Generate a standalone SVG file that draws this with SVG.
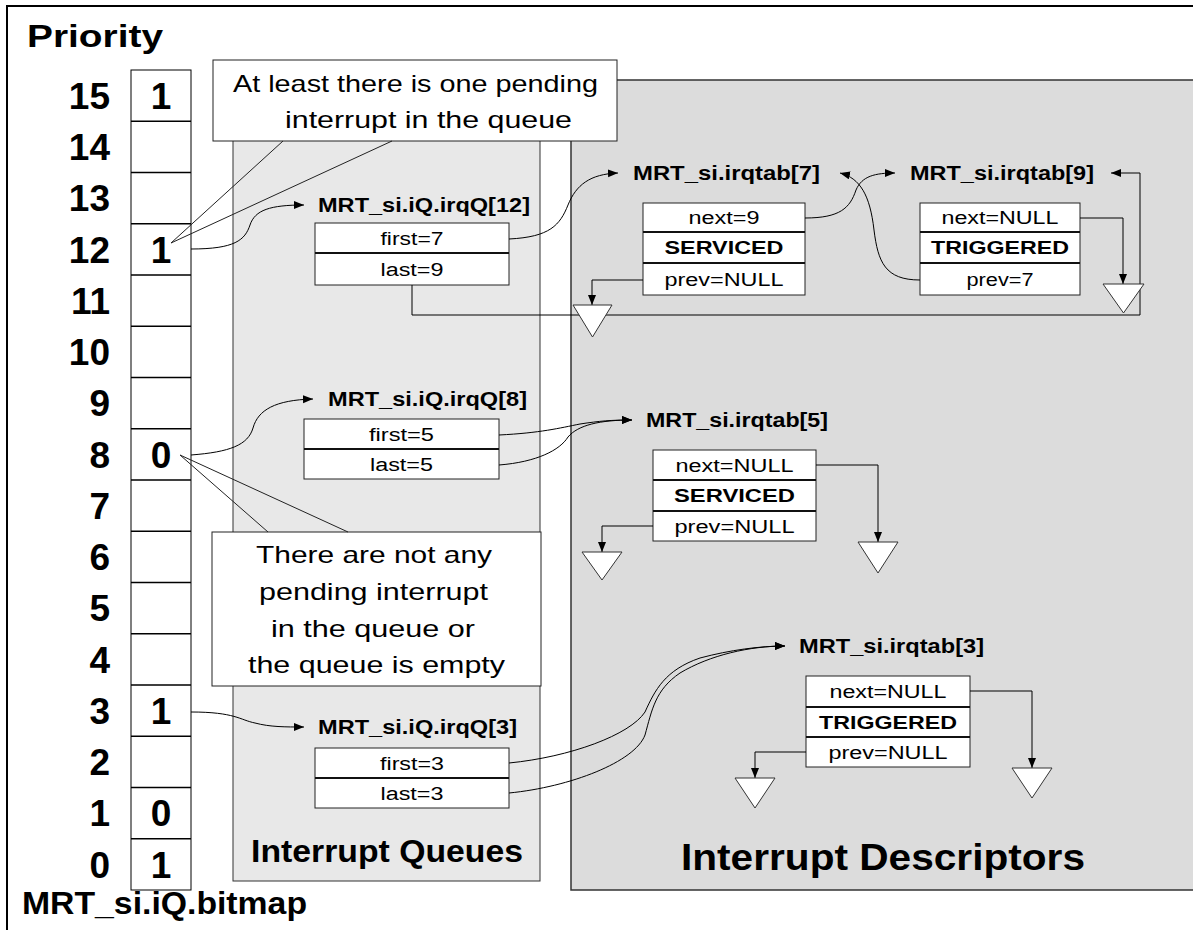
<svg xmlns="http://www.w3.org/2000/svg" width="1193" height="930" viewBox="0 0 1193 930">
<style>
text{font-family:"Liberation Sans",Arial,Helvetica,sans-serif;fill:#000}
.b{font-weight:bold}
.big{font-size:31px;font-weight:bold}
.num{font-size:37px;font-weight:bold}
.lbl{font-size:20px;font-weight:bold}
.cell{font-size:18px}
.cellb{font-size:18px;font-weight:bold}
.call{font-size:24px}
.box{fill:#fff;stroke:#222;stroke-width:1}
.div{stroke:#111;stroke-width:2}
.con{fill:none;stroke:#000;stroke-width:1}
.gnd{fill:#fff;stroke:#333;stroke-width:1}
</style>
<defs>
<marker id="ah" markerWidth="11" markerHeight="9" refX="10" refY="4" orient="auto" markerUnits="userSpaceOnUse">
<path d="M0,0 L10,4 L0,8 z" fill="#000"/>
</marker>
</defs>
<rect x="0" y="0" width="1193" height="930" fill="#fff"/>
<path d="M7,930 V6 H1193" fill="none" stroke="#000" stroke-width="2"/>

<g id="panel-queues">
<rect x="233" y="80" width="307" height="801" fill="#e8e8e8" stroke="#333" stroke-width="1"/>
<text x="387" y="862" class="big" font-size="30" text-anchor="middle" textLength="272" lengthAdjust="spacingAndGlyphs">Interrupt Queues</text>
</g>
<g id="panel-descriptors">
<rect x="571" y="80" width="640" height="810" fill="#dcdcdc" stroke="#333" stroke-width="1.5"/>
<text x="883" y="870" class="b" font-size="37" text-anchor="middle" textLength="404" lengthAdjust="spacingAndGlyphs">Interrupt Descriptors</text>
</g>

<g id="title">
<text x="27" y="47" class="big" textLength="136" lengthAdjust="spacingAndGlyphs">Priority</text>
<text x="22" y="914" class="big" font-size="30" textLength="285" lengthAdjust="spacingAndGlyphs">MRT_si.iQ.bitmap</text>
</g>

<g id="bitmap">
<rect x="131" y="70" width="60" height="820" fill="#fff" stroke="#000" stroke-width="1"/>
<path d="M131,121.25H191M131,172.5H191M131,223.75H191M131,275H191M131,326.25H191M131,377.5H191M131,428.75H191M131,480H191M131,531.25H191M131,582.5H191M131,633.75H191M131,685H191M131,736.25H191M131,787.5H191M131,838.75H191" stroke="#000" stroke-width="1.5"/>
<g class="num" text-anchor="end">
<text x="110" y="109" class="num">15</text>
<text x="110" y="160" class="num">14</text>
<text x="110" y="211" class="num">13</text>
<text x="110" y="263" class="num">12</text>
<text x="110" y="314" class="num">11</text>
<text x="110" y="365" class="num">10</text>
<text x="110" y="416" class="num">9</text>
<text x="110" y="468" class="num">8</text>
<text x="110" y="519" class="num">7</text>
<text x="110" y="570" class="num">6</text>
<text x="110" y="621" class="num">5</text>
<text x="110" y="673" class="num">4</text>
<text x="110" y="724" class="num">3</text>
<text x="110" y="775" class="num">2</text>
<text x="110" y="826" class="num">1</text>
<text x="110" y="878" class="num">0</text>
</g>
<g text-anchor="middle">
<text x="161" y="109" class="num">1</text>
<text x="161" y="263" class="num">1</text>
<text x="161" y="468" class="num">0</text>
<text x="161" y="724" class="num">1</text>
<text x="161" y="826" class="num">0</text>
<text x="161" y="878" class="num">1</text>
</g>
</g>

<g id="callout-pending">
<rect x="213" y="60" width="404" height="81" fill="#fff" stroke="#222" stroke-width="1"/>
<path d="M283,141 L171,243 L392,141" fill="none" stroke="#222" stroke-width="1"/>
<text x="233" y="92" class="call" textLength="365" lengthAdjust="spacingAndGlyphs">At least there is one pending</text>
<text x="285" y="128" class="call" textLength="287" lengthAdjust="spacingAndGlyphs">interrupt in the queue</text>
</g>

<g id="callout-empty">
<rect x="212" y="532" width="329" height="154" fill="#fff" stroke="#222" stroke-width="1"/>
<path d="M268,532 L180,455 L348,532" fill="none" stroke="#222" stroke-width="1"/>
<text x="256" y="563" class="call" textLength="236" lengthAdjust="spacingAndGlyphs">There are not any</text>
<text x="259" y="600" class="call" textLength="229" lengthAdjust="spacingAndGlyphs">pending interrupt</text>
<text x="271" y="637" class="call" textLength="204" lengthAdjust="spacingAndGlyphs">in the queue or</text>
<text x="248" y="673" class="call" textLength="257" lengthAdjust="spacingAndGlyphs">the queue is empty</text>
</g>

<g id="irqQ12">
<text x="318" y="212" class="lbl" textLength="212" lengthAdjust="spacingAndGlyphs">MRT_si.iQ.irqQ[12]</text>
<rect x="315" y="223" width="194" height="62" class="box"/>
<line x1="315" y1="253" x2="509" y2="253" class="div"/>
<text x="412" y="244.5" class="cell" text-anchor="middle" textLength="63" lengthAdjust="spacingAndGlyphs">first=7</text>
<text x="412" y="275.5" class="cell" text-anchor="middle" textLength="63" lengthAdjust="spacingAndGlyphs">last=9</text>
</g>

<g id="irqQ8">
<text x="328" y="406" class="lbl" textLength="199" lengthAdjust="spacingAndGlyphs">MRT_si.iQ.irqQ[8]</text>
<rect x="304" y="419" width="195" height="60" class="box"/>
<line x1="304" y1="449" x2="499" y2="449" class="div"/>
<text x="401.5" y="440.5" class="cell" text-anchor="middle" textLength="65" lengthAdjust="spacingAndGlyphs">first=5</text>
<text x="401.5" y="470.5" class="cell" text-anchor="middle" textLength="63" lengthAdjust="spacingAndGlyphs">last=5</text>
</g>

<g id="irqQ3">
<text x="318" y="734" class="lbl" textLength="199" lengthAdjust="spacingAndGlyphs">MRT_si.iQ.irqQ[3]</text>
<rect x="315" y="748" width="194" height="60" class="box"/>
<line x1="315" y1="778" x2="509" y2="778" class="div"/>
<text x="412" y="769.5" class="cell" text-anchor="middle" textLength="64" lengthAdjust="spacingAndGlyphs">first=3</text>
<text x="412" y="799.5" class="cell" text-anchor="middle" textLength="63" lengthAdjust="spacingAndGlyphs">last=3</text>
</g>

<g id="irqtab7">
<text x="633" y="180" class="lbl" textLength="187" lengthAdjust="spacingAndGlyphs">MRT_si.irqtab[7]</text>
<rect x="643" y="203" width="162" height="92" class="box"/>
<line x1="643" y1="232" x2="805" y2="232" class="div"/>
<line x1="643" y1="263" x2="805" y2="263" class="div"/>
<text x="724" y="224" class="cell" text-anchor="middle" textLength="71" lengthAdjust="spacingAndGlyphs">next=9</text>
<text x="724" y="254" class="cellb" text-anchor="middle" textLength="119" lengthAdjust="spacingAndGlyphs">SERVICED</text>
<text x="724" y="285.5" class="cell" text-anchor="middle" textLength="119" lengthAdjust="spacingAndGlyphs">prev=NULL</text>
</g>

<g id="irqtab9">
<text x="910" y="180" class="lbl" textLength="184" lengthAdjust="spacingAndGlyphs">MRT_si.irqtab[9]</text>
<rect x="920" y="203" width="160" height="92" class="box"/>
<line x1="920" y1="232" x2="1080" y2="232" class="div"/>
<line x1="920" y1="263" x2="1080" y2="263" class="div"/>
<text x="1000" y="224" class="cell" text-anchor="middle" textLength="117" lengthAdjust="spacingAndGlyphs">next=NULL</text>
<text x="1000" y="254" class="cellb" text-anchor="middle" textLength="138" lengthAdjust="spacingAndGlyphs">TRIGGERED</text>
<text x="1000" y="285.5" class="cell" text-anchor="middle" textLength="67" lengthAdjust="spacingAndGlyphs">prev=7</text>
</g>

<g id="irqtab5">
<text x="646" y="427" class="lbl" textLength="182" lengthAdjust="spacingAndGlyphs">MRT_si.irqtab[5]</text>
<rect x="653" y="450" width="163" height="91" class="box"/>
<line x1="653" y1="480" x2="816" y2="480" class="div"/>
<line x1="653" y1="511" x2="816" y2="511" class="div"/>
<text x="734.5" y="471.5" class="cell" text-anchor="middle" textLength="118" lengthAdjust="spacingAndGlyphs">next=NULL</text>
<text x="734.5" y="502" class="cellb" text-anchor="middle" textLength="121" lengthAdjust="spacingAndGlyphs">SERVICED</text>
<text x="734.5" y="532.5" class="cell" text-anchor="middle" textLength="120" lengthAdjust="spacingAndGlyphs">prev=NULL</text>
</g>

<g id="irqtab3">
<text x="799" y="653" class="lbl" textLength="185" lengthAdjust="spacingAndGlyphs">MRT_si.irqtab[3]</text>
<rect x="806" y="676" width="164" height="91" class="box"/>
<line x1="806" y1="707" x2="970" y2="707" class="div"/>
<line x1="806" y1="737" x2="970" y2="737" class="div"/>
<text x="888" y="698" class="cell" text-anchor="middle" textLength="117" lengthAdjust="spacingAndGlyphs">next=NULL</text>
<text x="888" y="728.5" class="cellb" text-anchor="middle" textLength="138" lengthAdjust="spacingAndGlyphs">TRIGGERED</text>
<text x="888" y="758.5" class="cell" text-anchor="middle" textLength="119" lengthAdjust="spacingAndGlyphs">prev=NULL</text>
</g>

<g id="connectors">
<path class="con" marker-end="url(#ah)" d="M191,249 C235,249 245,240 250,225 C255,210 270,205 304,205"/>
<path class="con" marker-end="url(#ah)" d="M191,455 C230,452 248,445 253,428 C258,410 275,400 313,399"/>
<path class="con" marker-end="url(#ah)" d="M191,712 C235,712 240,720 255,723 C270,727 285,727 304,727"/>
<path class="con" marker-end="url(#ah)" d="M509,239 C550,237 560,225 568,205 C576,185 590,174 618,173"/>
<path class="con" marker-end="url(#ah)" d="M805,218 C840,218 850,208 856,190 C862,176 875,173 895,173"/>
<path class="con" marker-end="url(#ah)" d="M920,280 C885,280 878,262 874,230 C870,195 860,178 840,173"/>
<path class="con" marker-end="url(#ah)" d="M643,280 H592 V305"/>
<path class="con" marker-end="url(#ah)" d="M1080,218 H1123 V284"/>
<path class="con" marker-end="url(#ah)" d="M412,285 V315 H1140 V173 H1111"/>
<path class="con" marker-end="url(#ah)" d="M499,435 C540,433 560,428 580,424 C600,421 610,420 632,420"/>
<path class="con" marker-end="url(#ah)" d="M499,465 C537,462 560,450 568,437 C578,425 600,420 632,420"/>
<path class="con" marker-end="url(#ah)" d="M816,465 H878 V542"/>
<path class="con" marker-end="url(#ah)" d="M653,526 H602 V552"/>
<path class="con" marker-end="url(#ah)" d="M509,763 C570,757 630,735 645,712 C655,690 665,670 700,658 C730,650 760,646 785,646"/>
<path class="con" marker-end="url(#ah)" d="M509,793 C570,787 635,762 645,735 C652,710 655,690 680,673 C710,655 750,646 785,646"/>
<path class="con" marker-end="url(#ah)" d="M970,691 H1032 V768"/>
<path class="con" marker-end="url(#ah)" d="M806,752 H755 V778"/>
</g>

<g id="grounds">
<polygon class="gnd" points="573,305 612,305 592.5,337"/>
<polygon class="gnd" points="1103,284 1144,284 1123.5,313"/>
<polygon class="gnd" points="582,552 622,552 602,580"/>
<polygon class="gnd" points="858,542 898,542 878,573"/>
<polygon class="gnd" points="735,778 775,778 755,808"/>
<polygon class="gnd" points="1012,768 1052,768 1032,798"/>
</g>
</svg>
